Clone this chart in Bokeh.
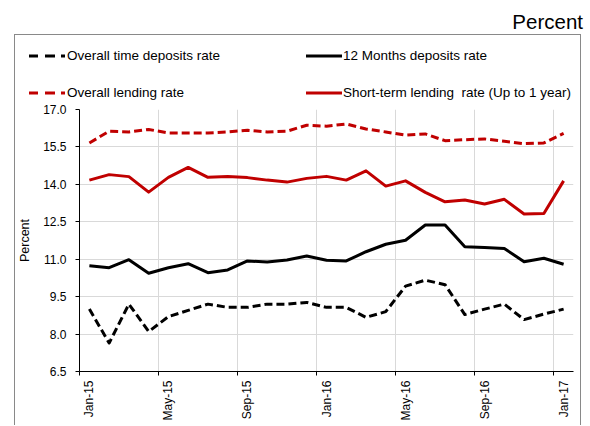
import math
from bokeh.plotting import figure
from bokeh.models import Range1d, FixedTicker, Div, NumeralTickFormatter
from bokeh.layouts import column
from bokeh.embed import file_html
from bokeh.resources import INLINE

months = ["Jan-15", "Feb-15", "Mar-15", "Apr-15", "May-15", "Jun-15", "Jul-15", "Aug-15",
          "Sep-15", "Oct-15", "Nov-15", "Dec-15", "Jan-16", "Feb-16", "Mar-16", "Apr-16",
          "May-16", "Jun-16", "Jul-16", "Aug-16", "Sep-16", "Oct-16", "Nov-16", "Dec-16", "Jan-17"]

overall_time_deposits = [9.00, 7.64, 9.20, 8.10, 8.70, 8.95, 9.20, 9.07, 9.07, 9.20, 9.20, 9.27, 9.07,
                         9.07, 8.67, 8.90, 9.92, 10.16, 9.98, 8.78, 9.00, 9.20, 8.58, 8.80, 9.00]
deposits_12m = [10.74, 10.66, 10.98, 10.44, 10.66, 10.82, 10.46, 10.57, 10.93, 10.89, 10.97, 11.13, 10.96,
                10.93, 11.30, 11.60, 11.76, 12.37, 12.37, 11.50, 11.47, 11.43, 10.90, 11.04, 10.80]
overall_lending = [15.66, 16.13, 16.10, 16.20, 16.06, 16.06, 16.06, 16.10, 16.17, 16.10, 16.13, 16.37, 16.33,
                   16.42, 16.22, 16.10, 15.97, 16.02, 15.75, 15.79, 15.82, 15.73, 15.63, 15.66, 16.04]
short_term_lending = [14.17, 14.39, 14.31, 13.69, 14.28, 14.68, 14.28, 14.31, 14.27, 14.17, 14.09, 14.24, 14.32,
                      14.17, 14.54, 13.93, 14.14, 13.68, 13.30, 13.37, 13.21, 13.40, 12.81, 12.83, 14.14]

series_names = ["Overall time deposits rate", "12 Months deposits rate",
                "Overall lending rate", "Short-term lending  rate (Up to 1 year)"]

y_ticks = [6.5, 8.0, 9.5, 11.0, 12.5, 14.0, 15.5, 17.0]
label_every = 4

FONT = "Liberation Sans"
RED = "#C00000"
BOX = "#898989"
DASH = "8 4"

styles_list = [dict(line_color="black", line_dash=DASH),
               dict(line_color="black", line_dash="solid"),
               dict(line_color=RED, line_dash=DASH),
               dict(line_color=RED, line_dash="solid")]
series = [overall_time_deposits, deposits_12m, overall_lending, short_term_lending]

x = list(range(len(months)))
n = len(months)

# ---------- main chart ----------
p = figure(width=567, height=321, output_backend="svg", toolbar_location=None,
           x_range=Range1d(-0.5, n - 0.5), y_range=Range1d(y_ticks[0], y_ticks[-1]),
           min_border_left=62, min_border_right=9, min_border_top=5, min_border_bottom=54,
           margin=(0, 0, 0, 14))
p.styles = {"border-left": f"1px solid {BOX}", "border-right": f"1px solid {BOX}"}
p.outline_line_color = None
p.background_fill_color = "white"
p.border_fill_color = "white"

p.ygrid.ticker = FixedTicker(ticks=y_ticks[1:])
p.ygrid.grid_line_color = "#d9d9d9"
bounds = [i - 0.5 for i in range(label_every, n, label_every)]
p.xgrid.ticker = FixedTicker(ticks=bounds)
p.xgrid.grid_line_color = "#d9d9d9"

xa = p.xaxis[0]
xa.ticker = FixedTicker(ticks=list(range(0, n, label_every)),
                        minor_ticks=[i - 0.5 for i in range(0, n, label_every)])
xa.major_label_overrides = {i: months[i] for i in range(0, n, label_every)}
xa.major_tick_out = 0
xa.major_tick_in = 0
xa.minor_tick_out = 4
xa.minor_tick_in = 0
xa.minor_tick_line_color = "black"
xa.axis_line_color = "black"
xa.major_label_orientation = math.pi / 2
xa.major_label_standoff = 5
xa.major_label_text_font = FONT
xa.major_label_text_font_size = "12px"
xa.major_label_text_color = "black"

ya = p.yaxis[0]
ya.ticker = FixedTicker(ticks=y_ticks)
ya.formatter = NumeralTickFormatter(format="0.0")
ya.major_tick_out = 4
ya.major_tick_in = 0
ya.minor_tick_line_color = None
ya.axis_line_color = "black"
ya.major_label_standoff = 9
ya.major_label_text_font = FONT
ya.major_label_text_font_size = "12px"
ya.major_label_text_color = "black"
ya.axis_label = "Percent"
ya.axis_label_standoff = 8
ya.axis_label_text_font = FONT
ya.axis_label_text_font_size = "12.5px"
ya.axis_label_text_font_style = "normal"
ya.axis_label_text_color = "black"

for vals, st in zip(series, styles_list):
    p.line(x, vals, line_width=3, line_join="round", **st)

# ---------- legend strip (inside the chart box, above the plot) ----------
legend_order = [0, 2, 1, 3]          # column-major: two rows, two columns
col_pos = [(14, 52), (291, 328)]      # (sample left, text left) within the strip
row_pos = [21, 58]                    # row centres within the strip
parts = []
for k, i in enumerate(legend_order):
    gx, tx = col_pos[k // 2]
    cy = row_pos[k % 2]
    st = styles_list[i]
    dash = ' stroke-dasharray="9 7 10 6 4"' if st["line_dash"] != "solid" else ""
    parts.append(
        f'<svg style="position:absolute;left:{gx}px;top:{cy - 3}px" width="36" height="6">'
        f'<line x1="0" y1="3" x2="36" y2="3" stroke="{st["line_color"]}" stroke-width="3"{dash}/></svg>')
    parts.append(
        f'<span style="position:absolute;left:{tx}px;top:{cy - 9}px;line-height:18px;'
        f'white-space:pre">{series_names[i]}</span>')
legend_html = (f'<div style="position:relative;width:567px;height:70px;font-family:{FONT};'
               f'font-size:13.5px;color:black">' + "".join(parts) + "</div>")

lg = Div(text=legend_html, width=567, height=70, margin=(0, 0, 0, 14),
         styles={"border-left": f"1px solid {BOX}", "border-top": f"1px solid {BOX}",
                 "border-right": f"1px solid {BOX}", "background": "white"})

title = Div(text="Percent", width=583, height=34, margin=(0, 0, 0, 0),
            styles={"font-family": FONT, "font-size": "20.5px", "text-align": "right",
                    "line-height": "20px", "padding-top": "12px", "box-sizing": "border-box",
                    "color": "black"})

layout = column(title, lg, p, spacing=0)
open("out.html", "w").write(file_html(layout, INLINE))
